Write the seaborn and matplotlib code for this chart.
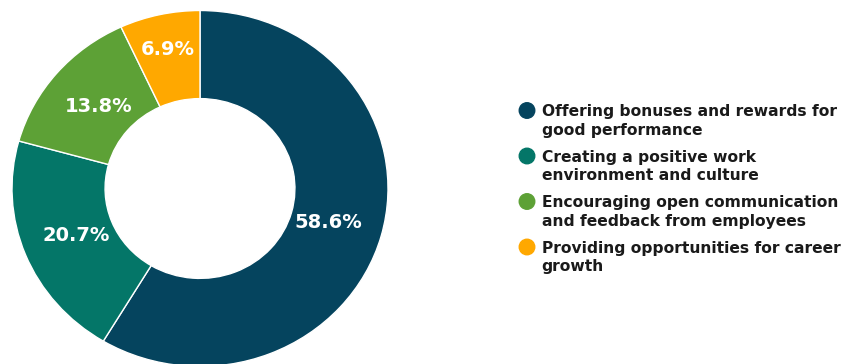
import matplotlib
matplotlib.use("Agg")
import matplotlib.pyplot as plt
import seaborn as sns
import numpy as np

categories = [
    "Offering bonuses and rewards for\ngood performance",
    "Creating a positive work\nenvironment and culture",
    "Encouraging open communication\nand feedback from employees",
    "Providing opportunities for career\ngrowth",
]
values = [58.6, 20.7, 13.8, 6.9]
colors = ["#05445E", "#047668", "#5DA136", "#FFA800"]

sns.set_theme(style="white")
plt.rcParams["font.family"] = ["DejaVu Sans"]
palette = sns.color_palette(colors)

fig = plt.figure(figsize=(8.48, 3.64), dpi=100)
W, H = 848, 364
ax = fig.add_axes([12 / W, (H - 366.5) / H, 376 / W, 356 / H])

wedges, texts, autotexts = ax.pie(
    values,
    colors=palette,
    startangle=90,
    counterclock=False,
    autopct=lambda p: f"{p:.1f}%",
    pctdistance=0.71,
    wedgeprops=dict(width=0.495, edgecolor="white", linewidth=1.0, clip_on=False),
    textprops=dict(color="white", fontsize=14, fontweight="bold"),
)
ax.set_aspect("auto")
ax.set_xlim(-1, 1)
ax.set_ylim(-1, 1)
ax.axis("off")

# push the smallest slice's label outward
small = int(np.argmin(values))
w = wedges[small]
mid = np.deg2rad((w.theta1 + w.theta2) / 2)
autotexts[small].set_position((0.80 * np.cos(mid), 0.80 * np.sin(mid)))

# legend
lax = fig.add_axes([0, 0, 1, 1])
lax.set_xlim(0, W)
lax.set_ylim(H, 0)
lax.axis("off")
ys = [110.5, 156, 201.5, 247]
lax.scatter([527] * len(values), ys, s=125, c=palette, zorder=3)
for y, lab in zip(ys, categories):
    # baseline of the last (second) line
    lax.text(541.5, y + 5.5 + 19, lab, fontsize=11.2, fontweight="bold", color="#1a1a1a",
             va="baseline", ha="left", linespacing=1.31)

fig.savefig("out.png", dpi=100)
